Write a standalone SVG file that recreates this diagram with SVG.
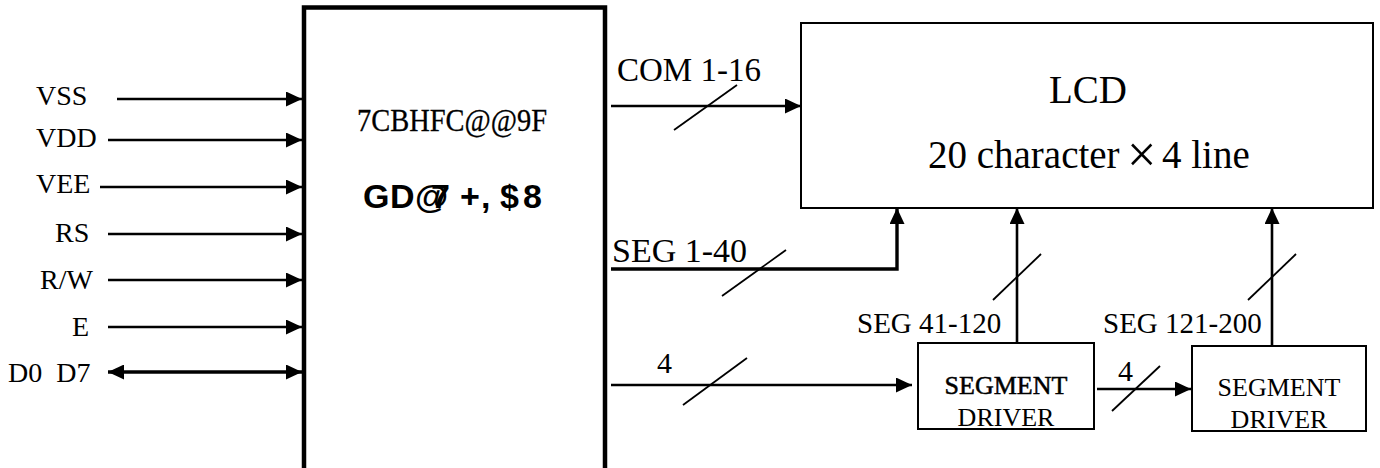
<svg xmlns="http://www.w3.org/2000/svg" width="1380" height="468" viewBox="0 0 1380 468">
<style>
.serif{font-family:"Liberation Serif","Times New Roman",serif;fill:#000}
.sans{font-family:"Liberation Sans",Arial,sans-serif;fill:#000}
.box{fill:#fff;stroke:#000;stroke-width:2}
.w{fill:none;stroke:#000;stroke-width:2.6}
.wb{fill:none;stroke:#000;stroke-width:3.4}
.sl{fill:none;stroke:#000;stroke-width:1.8}
</style>
<defs>
<marker id="ah" markerUnits="userSpaceOnUse" markerWidth="16" markerHeight="15" viewBox="0 0 16 15" refX="16" refY="7.5" orient="auto-start-reverse">
<path d="M0,0 L16,7.5 L0,15 z" fill="#000"/>
</marker>
</defs>
<rect width="1380" height="468" fill="#fff"/>

<g id="controller">
<rect x="304" y="7.5" width="301" height="480" fill="#fff" stroke="#000" stroke-width="4.5"/>
<text class="serif" x="357" y="131" font-size="32" textLength="190" lengthAdjust="spacingAndGlyphs" stroke="#000" stroke-width="0.3">7CBHFC@@9F</text>
<text class="sans" font-weight="bold" font-size="34" y="208" x="363 390 415 431 451 460 481 489 500 523">GD@7 +, $8</text>
</g>

<g id="lcd">
<rect class="box" x="801" y="23" width="572" height="185"/>
<text class="serif" x="1088" y="103" font-size="39" text-anchor="middle">LCD</text>
<text class="serif" y="168" font-size="39"><tspan x="928">20 character</tspan><tspan x="1127" y="172" font-size="52">×</tspan><tspan x="1162" y="168" font-size="39">4 line</tspan></text>
</g>

<g id="driver1">
<rect class="box" x="918" y="343" width="176" height="86"/>
<text class="serif" x="1006" y="394" font-size="26" text-anchor="middle" stroke="#000" stroke-width="0.5">SEGMENT</text>
<text class="serif" x="1006" y="426" font-size="26" text-anchor="middle">DRIVER</text>
</g>

<g id="driver2">
<rect class="box" x="1192" y="346" width="174" height="85"/>
<text class="serif" x="1279" y="396" font-size="26" text-anchor="middle">SEGMENT</text>
<text class="serif" x="1279" y="428" font-size="26" text-anchor="middle">DRIVER</text>
</g>

<g id="connectors">
<line class="w" x1="117" y1="99" x2="302" y2="99" marker-end="url(#ah)"/>
<line class="w" x1="108" y1="140" x2="302" y2="140" marker-end="url(#ah)"/>
<line class="w" x1="100" y1="187" x2="302" y2="187" marker-end="url(#ah)"/>
<line class="w" x1="108" y1="234" x2="302" y2="234" marker-end="url(#ah)"/>
<line class="w" x1="108" y1="280" x2="302" y2="280" marker-end="url(#ah)"/>
<line class="w" x1="108" y1="327" x2="302" y2="327" marker-end="url(#ah)"/>
<line class="wb" x1="108" y1="372" x2="302" y2="372" marker-start="url(#ah)" marker-end="url(#ah)"/>

<line class="w" x1="611" y1="106" x2="801" y2="106" marker-end="url(#ah)"/>
<line class="sl" x1="674" y1="130" x2="737" y2="85"/>

<polyline class="wb" points="611,269 897,269 897,208" marker-end="url(#ah)"/>
<line class="sl" x1="722" y1="296" x2="786" y2="250"/>

<line class="w" x1="611" y1="385" x2="912" y2="385" marker-end="url(#ah)"/>
<line class="sl" x1="683" y1="405" x2="747" y2="358"/>

<line class="w" x1="1097" y1="389" x2="1191" y2="389" marker-end="url(#ah)"/>
<line class="sl" x1="1112" y1="411" x2="1160" y2="366"/>

<line class="w" x1="1017" y1="343" x2="1017" y2="208" marker-end="url(#ah)"/>
<line class="sl" x1="993" y1="300" x2="1041" y2="254"/>

<line class="w" x1="1272" y1="346" x2="1272" y2="208" marker-end="url(#ah)"/>
<line class="sl" x1="1248" y1="300" x2="1296" y2="254"/>
</g>

<g id="labels">
<text class="serif" x="36" y="105" font-size="28">VSS</text>
<text class="serif" x="36" y="147" font-size="28">VDD</text>
<text class="serif" x="36" y="193" font-size="28">VEE</text>
<text class="serif" x="55" y="242" font-size="28">RS</text>
<text class="serif" x="40" y="289" font-size="28">R/W</text>
<text class="serif" x="72" y="336" font-size="28">E</text>
<text class="serif" x="8" y="382" font-size="28" word-spacing="7">D0 D7</text>
<text class="serif" x="617" y="81" font-size="33">COM 1-16</text>
<text class="serif" x="612" y="262" font-size="34">SEG 1-40</text>
<text class="serif" x="657" y="373" font-size="30">4</text>
<text class="serif" x="857" y="333" font-size="29">SEG 41-120</text>
<text class="serif" x="1103" y="333" font-size="29">SEG 121-200</text>
<text class="serif" x="1118" y="381" font-size="30">4</text>
</g>
</svg>
